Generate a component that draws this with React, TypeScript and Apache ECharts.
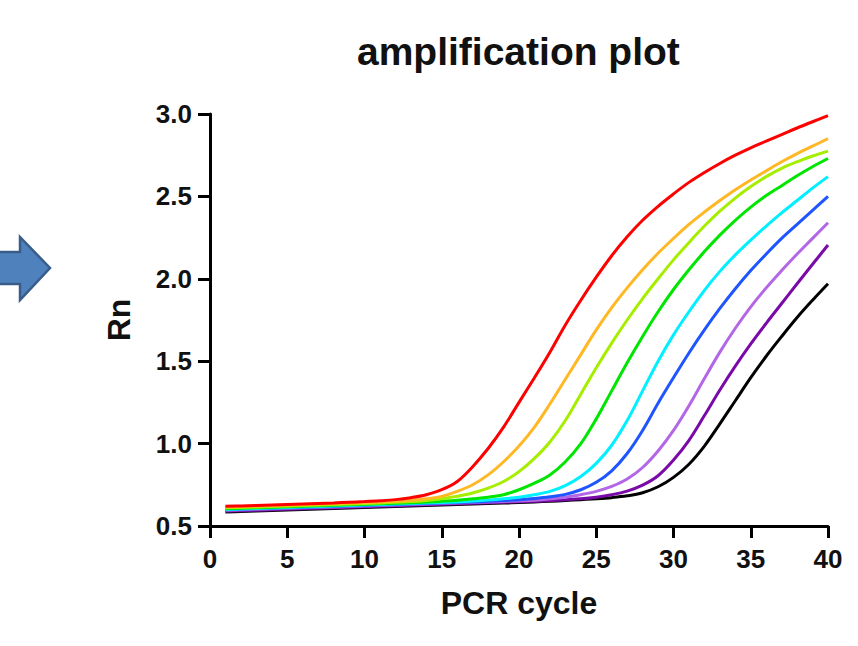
import React, { useEffect, useRef } from "react";
import * as echarts from "echarts";

const cycles = Array.from({ length: 40 }, (_, i) => i + 1);

const xTicks = [0, 5, 10, 15, 20, 25, 30, 35, 40];
const yTicks = [0.5, 1.0, 1.5, 2.0, 2.5, 3.0];

const seriesNames = ["S1", "S2", "S3", "S4", "S5", "S6", "S7", "S8", "S9"];
const seriesColors = ["#ff0000", "#ffb824", "#a6ee00", "#00e600", "#00f0ff", "#1f55ff", "#b366e6", "#7a0aa8", "#000000"];

const red = [0.620, 0.622, 0.625, 0.628, 0.631, 0.634, 0.637, 0.640, 0.644, 0.648, 0.653, 0.660, 0.672, 0.690, 0.720, 0.770, 0.860, 0.970, 1.100, 1.250, 1.400, 1.555, 1.720, 1.870, 2.010, 2.140, 2.255, 2.355, 2.440, 2.515, 2.585, 2.645, 2.700, 2.750, 2.795, 2.835, 2.875, 2.915, 2.953, 2.990];
const orange = [0.615, 0.618, 0.621, 0.624, 0.627, 0.630, 0.633, 0.636, 0.639, 0.642, 0.646, 0.650, 0.655, 0.665, 0.680, 0.710, 0.750, 0.810, 0.890, 0.985, 1.100, 1.240, 1.390, 1.540, 1.690, 1.825, 1.945, 2.055, 2.155, 2.245, 2.330, 2.405, 2.475, 2.540, 2.600, 2.655, 2.710, 2.760, 2.805, 2.850];
const lime = [0.610, 0.613, 0.616, 0.619, 0.622, 0.625, 0.628, 0.631, 0.634, 0.637, 0.640, 0.644, 0.648, 0.655, 0.665, 0.680, 0.700, 0.730, 0.770, 0.830, 0.910, 1.010, 1.140, 1.300, 1.460, 1.610, 1.750, 1.880, 2.000, 2.115, 2.220, 2.320, 2.410, 2.490, 2.560, 2.620, 2.670, 2.710, 2.745, 2.775];
const green = [0.605, 0.608, 0.611, 0.614, 0.617, 0.620, 0.623, 0.626, 0.629, 0.632, 0.635, 0.638, 0.641, 0.645, 0.650, 0.656, 0.665, 0.675, 0.690, 0.720, 0.760, 0.810, 0.890, 1.000, 1.150, 1.320, 1.490, 1.650, 1.800, 1.935, 2.055, 2.165, 2.265, 2.355, 2.435, 2.505, 2.565, 2.625, 2.680, 2.730];
const cyan = [0.600, 0.603, 0.606, 0.609, 0.612, 0.615, 0.618, 0.621, 0.624, 0.627, 0.630, 0.633, 0.636, 0.639, 0.642, 0.646, 0.651, 0.657, 0.665, 0.675, 0.690, 0.710, 0.745, 0.800, 0.880, 0.990, 1.140, 1.320, 1.500, 1.660, 1.800, 1.930, 2.045, 2.145, 2.235, 2.320, 2.400, 2.475, 2.550, 2.620];
const blue = [0.598, 0.601, 0.604, 0.607, 0.610, 0.613, 0.616, 0.619, 0.622, 0.625, 0.628, 0.631, 0.634, 0.637, 0.640, 0.643, 0.646, 0.650, 0.655, 0.660, 0.667, 0.677, 0.692, 0.720, 0.765, 0.835, 0.940, 1.080, 1.245, 1.400, 1.550, 1.690, 1.820, 1.940, 2.050, 2.150, 2.245, 2.330, 2.415, 2.500];
const lilac = [0.595, 0.598, 0.601, 0.604, 0.607, 0.610, 0.613, 0.616, 0.619, 0.622, 0.625, 0.628, 0.631, 0.634, 0.637, 0.640, 0.643, 0.646, 0.649, 0.652, 0.656, 0.665, 0.675, 0.690, 0.710, 0.740, 0.785, 0.855, 0.955, 1.080, 1.230, 1.395, 1.555, 1.700, 1.830, 1.945, 2.050, 2.150, 2.245, 2.340];
const purple = [0.590, 0.593, 0.596, 0.599, 0.602, 0.605, 0.608, 0.611, 0.614, 0.617, 0.620, 0.623, 0.626, 0.629, 0.632, 0.635, 0.638, 0.641, 0.644, 0.647, 0.650, 0.654, 0.659, 0.665, 0.675, 0.690, 0.712, 0.748, 0.805, 0.900, 1.020, 1.170, 1.325, 1.470, 1.605, 1.730, 1.850, 1.970, 2.088, 2.205];
const black = [0.585, 0.588, 0.591, 0.594, 0.597, 0.600, 0.603, 0.606, 0.609, 0.612, 0.615, 0.618, 0.621, 0.624, 0.627, 0.630, 0.633, 0.636, 0.639, 0.642, 0.646, 0.650, 0.655, 0.660, 0.665, 0.672, 0.683, 0.702, 0.738, 0.795, 0.875, 0.985, 1.120, 1.260, 1.400, 1.530, 1.650, 1.765, 1.870, 1.970];

const allValues = [red, orange, lime, green, cyan, blue, lilac, purple, black];

const FONT = '"Liberation Sans", Arial, Helvetica, sans-serif';

export default function App() {
  const ref = useRef<HTMLDivElement>(null);
  useEffect(() => {
    if (!ref.current) return;
    const chart = echarts.init(ref.current, null, { renderer: "svg" });
    const series = allValues.map((vals, i) => ({
      name: seriesNames[i],
      type: "line",
      data: cycles.map((c, j) => [c, vals[j]]),
      showSymbol: false,
      smooth: 0.35,
      lineStyle: { color: seriesColors[i], width: 3 },
      itemStyle: { color: seriesColors[i] },
      z: 2 + (allValues.length - i),
    }));
    chart.setOption({
      animation: false,
      backgroundColor: "#ffffff",
      title: {
        text: "amplification plot",
        left: 357,
        top: 32,
        padding: 0,
        textStyle: { fontFamily: FONT, fontWeight: "bold", fontSize: 39, color: "#111" },
      },
      grid: { left: 210, right: 30, top: 114, bottom: 120, containLabel: false },
      xAxis: {
        type: "value",
        min: xTicks[0],
        max: xTicks[xTicks.length - 1],
        interval: 5,
        name: "PCR cycle",
        nameLocation: "middle",
        nameGap: 61,
        nameTextStyle: { fontFamily: FONT, fontWeight: "bold", fontSize: 32, color: "#111" },
        axisLine: { show: true, lineStyle: { color: "#000", width: 3 } },
        axisTick: { show: true, inside: false, length: 12, lineStyle: { color: "#000", width: 3 } },
        axisLabel: { margin: 20, fontFamily: FONT, fontWeight: "bold", fontSize: 26, color: "#111" },
        splitLine: { show: false },
      },
      yAxis: {
        type: "value",
        min: yTicks[0],
        max: yTicks[yTicks.length - 1],
        interval: 0.5,
        name: "Rn",
        nameLocation: "middle",
        nameGap: 75,
        nameTextStyle: { fontFamily: FONT, fontWeight: "bold", fontSize: 32, color: "#111" },
        axisLine: { show: true, lineStyle: { color: "#000", width: 3 } },
        axisTick: { show: true, inside: false, length: 12, lineStyle: { color: "#000", width: 3 } },
        axisLabel: {
          margin: 18,
          fontFamily: FONT,
          fontWeight: "bold",
          fontSize: 26,
          color: "#111",
          formatter: (v: number) => v.toFixed(1),
        },
        splitLine: { show: false },
      },
      graphic: [
        {
          type: "polygon",
          shape: {
            points: [
              [-6, 252],
              [20, 252],
              [20, 237],
              [50, 268],
              [20, 300],
              [20, 284],
              [-6, 284],
            ],
          },
          style: { fill: "#4f81bd", stroke: "#385d8a", lineWidth: 2.5 },
        },
      ],
      series,
    });
    return () => chart.dispose();
  }, []);
  return (
    <div
      ref={ref}
      style={{ position: "fixed", left: 0, top: 0, width: 858, height: 646, background: "#fff" }}
    />
  );
}
